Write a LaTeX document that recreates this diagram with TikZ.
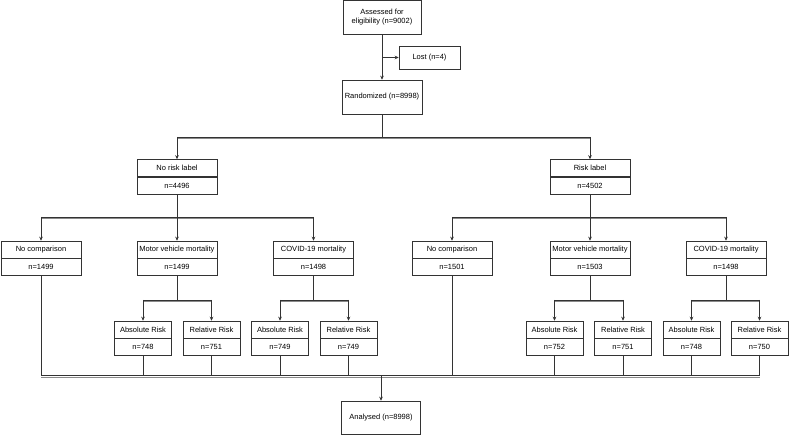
\documentclass[tikz,border=0pt]{standalone}
\usepackage{fontspec}
\setmainfont{Liberation Sans}
\usetikzlibrary{arrows.meta}
\definecolor{lc}{HTML}{333333}
\definecolor{lc2}{HTML}{8A8A8A}
\begin{document}
\begin{tikzpicture}[x=1pt,y=-1pt,
  font=\fontsize{7.5}{9.5}\selectfont,
  flowbox/.style={draw=lc, line width=0.6pt, inner sep=0pt, align=center, text=black},
  widecell/.style={flowbox, minimum width=80pt, minimum height=17pt},
  smallcell/.style={flowbox, minimum width=57pt, minimum height=17pt},
  conn/.style={draw=lc, line width=0.6pt},
  conn2/.style={draw=lc2, line width=0.6pt},
  arr/.style={conn, -{Stealth[length=4pt,width=3.6pt]}}]
\newcommand\busline[2]{%
  \draw[conn2] ([yshift=-1.8pt]#1) -- ([yshift=-1.8pt]#2);
  \draw[conn] (#1) -- (#2);}
\useasboundingbox (0,0) rectangle (789,435);

% top
\node[flowbox, minimum width=78pt, minimum height=34pt] (assess) at (382,17) {Assessed for\\eligibility (n=9002)};
\node[flowbox, minimum width=61pt, minimum height=23pt] (lost) at (429.5,57.5) {Lost (n=4)};
\node[flowbox, minimum width=80pt, minimum height=34pt] (rand) at (382,97) {Randomized (n=8998)};
\draw[arr] (assess.south) -- (rand.north);
\draw[arr] (assess.south |- lost.west) -- (lost.west);

% level 1
\node[widecell] (nrlh) at (177,168) {No risk label};
\node[widecell, anchor=north] (nrln) at (nrlh.south) {n=4496};
\node[widecell] (rlh) at (590,168) {Risk label};
\node[widecell, anchor=north] (rln) at (rlh.south) {n=4502};

\coordinate (b1) at (382,137);
\coordinate (b1s) at (nrlh.north |- b1);
\coordinate (b1e) at (rlh.north |- b1);
\busline{b1s}{b1e}
\draw[conn] (rand.south) -- (b1);
\draw[arr] (b1s) -- (nrlh.north);
\draw[arr] (b1e) -- (rlh.north);

% level 2
\node[widecell] (nc1h) at (41,249.5) {No comparison};
\node[widecell, anchor=north] (nc1n) at (nc1h.south) {n=1499};
\node[widecell] (mv1h) at (177,249.5) {Motor vehicle mortality};
\node[widecell, anchor=north] (mv1n) at (mv1h.south) {n=1499};
\node[widecell] (cv1h) at (313.5,249.5) {COVID-19 mortality};
\node[widecell, anchor=north] (cv1n) at (cv1h.south) {n=1498};
\node[widecell] (nc2h) at (452,249.5) {No comparison};
\node[widecell, anchor=north] (nc2n) at (nc2h.south) {n=1501};
\node[widecell] (mv2h) at (590,249.5) {Motor vehicle mortality};
\node[widecell, anchor=north] (mv2n) at (mv2h.south) {n=1503};
\node[widecell] (cv2h) at (726,249.5) {COVID-19 mortality};
\node[widecell, anchor=north] (cv2n) at (cv2h.south) {n=1498};

\coordinate (b2l) at (177,217);
\coordinate (b2r) at (590,217);
\coordinate (b2ls) at (nc1h.north |- b2l);
\coordinate (b2le) at (cv1h.north |- b2l);
\coordinate (b2rs) at (nc2h.north |- b2r);
\coordinate (b2re) at (cv2h.north |- b2r);
\busline{b2ls}{b2le}
\busline{b2rs}{b2re}
\draw[conn] (nrln.south) -- (b2l);
\draw[conn] (rln.south) -- (b2r);
\foreach \n in {nc1h,mv1h,cv1h}{\draw[arr] (\n.north |- b2l) -- (\n.north);}
\foreach \n in {nc2h,mv2h,cv2h}{\draw[arr] (\n.north |- b2r) -- (\n.north);}

% level 3
\node[smallcell] (a1h) at (143,329.5) {Absolute Risk};
\node[smallcell, anchor=north] (a1n) at (a1h.south) {n=748};
\node[smallcell] (r1h) at (211.5,329.5) {Relative Risk};
\node[smallcell, anchor=north] (r1n) at (r1h.south) {n=751};
\node[smallcell] (a2h) at (280,329.5) {Absolute Risk};
\node[smallcell, anchor=north] (a2n) at (a2h.south) {n=749};
\node[smallcell] (r2h) at (348.5,329.5) {Relative Risk};
\node[smallcell, anchor=north] (r2n) at (r2h.south) {n=749};
\node[smallcell] (a3h) at (554.5,329.5) {Absolute Risk};
\node[smallcell, anchor=north] (a3n) at (a3h.south) {n=752};
\node[smallcell] (r3h) at (623,329.5) {Relative Risk};
\node[smallcell, anchor=north] (r3n) at (r3h.south) {n=751};
\node[smallcell] (a4h) at (691.5,329.5) {Absolute Risk};
\node[smallcell, anchor=north] (a4n) at (a4h.south) {n=748};
\node[smallcell] (r4h) at (759.5,329.5) {Relative Risk};
\node[smallcell, anchor=north] (r4n) at (r4h.south) {n=750};

\coordinate (b3a) at (177,300);
\coordinate (b3b) at (313.5,300);
\coordinate (b3c) at (590,300);
\coordinate (b3d) at (726,300);
\coordinate (b3as) at (a1h.north |- b3a);
\coordinate (b3ae) at (r1h.north |- b3a);
\coordinate (b3bs) at (a2h.north |- b3b);
\coordinate (b3be) at (r2h.north |- b3b);
\coordinate (b3cs) at (a3h.north |- b3c);
\coordinate (b3ce) at (r3h.north |- b3c);
\coordinate (b3ds) at (a4h.north |- b3d);
\coordinate (b3de) at (r4h.north |- b3d);
\busline{b3as}{b3ae}
\busline{b3bs}{b3be}
\busline{b3cs}{b3ce}
\busline{b3ds}{b3de}
\draw[conn] (mv1n.south) -- (b3a);
\draw[conn] (cv1n.south) -- (b3b);
\draw[conn] (mv2n.south) -- (b3c);
\draw[conn] (cv2n.south) -- (b3d);
\foreach \n in {a1h,r1h}{\draw[arr] (\n.north |- b3a) -- (\n.north);}
\foreach \n in {a2h,r2h}{\draw[arr] (\n.north |- b3b) -- (\n.north);}
\foreach \n in {a3h,r3h}{\draw[arr] (\n.north |- b3c) -- (\n.north);}
\foreach \n in {a4h,r4h}{\draw[arr] (\n.north |- b3d) -- (\n.north);}

% bottom
\node[flowbox, minimum width=79pt, minimum height=33pt] (ana) at (381,417.5) {Analysed (n=8998)};
\coordinate (b4) at (381,375);
\coordinate (b4s) at (nc1n.south |- b4);
\coordinate (b4e) at (r4n.south |- b4);
\busline{b4s}{b4e}
\foreach \n in {nc1n,a1n,r1n,a2n,r2n,nc2n,a3n,r3n,a4n,r4n}{\draw[conn] (\n.south) -- (\n.south |- b4);}
\draw[arr] (b4) -- (ana.north);
\end{tikzpicture}
\end{document}
